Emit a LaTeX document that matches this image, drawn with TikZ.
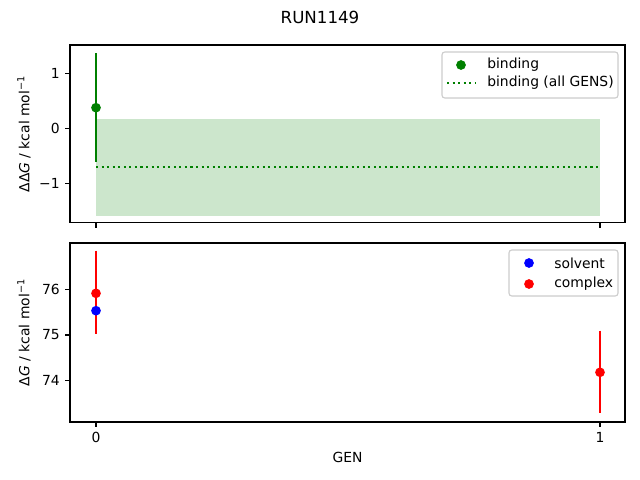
\documentclass[tikz,border=0pt]{standalone}
\usepackage{fontspec}
\setmainfont{DejaVu Sans}
\usetikzlibrary{positioning}
\definecolor{mplgreen}{HTML}{008000}
\definecolor{mplred}{HTML}{FF0000}
\definecolor{mplblue}{HTML}{0000FF}
\definecolor{legendedge}{HTML}{CCCCCC}
\tikzset{
	frame/.style={line width=0.8pt},
	tick/.style={line width=0.8pt},
	ticklabel/.style={inner sep=3.5pt, font=\fontsize{10}{12}\selectfont},
	dot/.style={circle, inner sep=0pt, minimum size=7pt},
	errbar/.style={line width=1.5pt},
	allgens/.style={mplgreen, line width=1.5pt, dash pattern=on 1.5pt off 2.5pt},
	legendbox/.style={draw=legendedge, fill=white, fill opacity=0.8, rounded corners=2pt, line width=0.8pt},
	legendtext/.style={anchor=west, inner sep=0pt, font=\fontsize{10}{12}\selectfont},
}
\begin{document}
\begin{tikzpicture}[x=0.72pt, y=-0.72pt]
			\useasboundingbox (0,0) rectangle (640,480);
			\node (title) at (320,17) {\fontsize{12}{14}\selectfont RUN1149};
			
			% binding panel
			\fill[mplgreen, fill opacity=0.2] (96,119) rectangle (600,215.7);
			\coordinate (allL) at (96,166.7);
			\coordinate (allR) at (600,166.7);
			\draw[allgens] (allL) -- (allR);
			\coordinate (b0top) at (96,53.3);
			\coordinate (b0bot) at (96,161.7);
			\draw[errbar, mplgreen] (b0top) -- (b0bot);
			\node[dot, fill=mplgreen] (b0) at (96,107.7) {};
			\draw[frame] (70,45) rectangle (625,222.7);
			\foreach \v/\lab in {1/1, 0/0, -1/−1}{
				\draw[tick] (70,{128.3-55*(\v)}) -- ++(-4.9,0) node[left, ticklabel] (ytop\v) {\lab};
			}
			\foreach \x in {96, 600}
				\draw[tick] (\x,222.7) -- ++(0,4.9);
			\node[rotate=90] (ylabtop) at (24,134) {ΔΔ\textit{G} / kcal mol\textsuperscript{−1}};
			
			% legend binding
			\draw[legendbox] (442,52) rectangle (618,98);
			\node[dot, fill=mplgreen] (legb) at (461,65) {};
			\node[legendtext] (legbtext) at (487,65) {binding};
			\coordinate (legaL) at (447,83);
			\coordinate (legaR) at (475,83);
			\draw[allgens] (legaL) -- (legaR);
			\node[legendtext] (legatext) at (487,83) {binding (all GENS)};
			
			% solvent/complex panel
			\coordinate (c0top) at (96,250.7);
			\coordinate (c0bot) at (96,333.7);
			\draw[errbar, mplred] (c0top) -- (c0bot);
			\coordinate (c1top) at (600,330.7);
			\coordinate (c1bot) at (600,413.3);
			\draw[errbar, mplred] (c1top) -- (c1bot);
			\node[dot, fill=mplblue] (s0) at (96,310.7) {};
			\node[dot, fill=mplred] (c0) at (96,293.3) {};
			\node[dot, fill=mplred] (c1) at (600,372.3) {};
			\draw[frame] (70,243) rectangle (625,422);
			\foreach \v in {76, 75, 74}{
				\draw[tick] (70,{335-45.5*(\v-75)}) -- ++(-4.9,0) node[left, ticklabel] (ybot\v) {\v};
			}
			\foreach \x/\lab in {96/0, 600/1}{
				\draw[tick] (\x,422) -- ++(0,4.9) node[below, ticklabel] (xbot\lab) {\lab};
			}
			\node[rotate=90] (ylabbot) at (24,332.5) {Δ\textit{G} / kcal mol\textsuperscript{−1}};
			\node (xlab) at (347.5,457) {GEN};
			
			% legend solvent/complex
			\draw[legendbox] (509,250) rectangle (618,296);
			\node[dot, fill=mplblue] (legs) at (529,263) {};
			\node[legendtext] (legstext) at (554,263) {solvent};
			\node[dot, fill=mplred] (legc) at (529,284) {};
			\node[legendtext] (legctext) at (554,284) {complex};
		\end{tikzpicture}
\end{document}
